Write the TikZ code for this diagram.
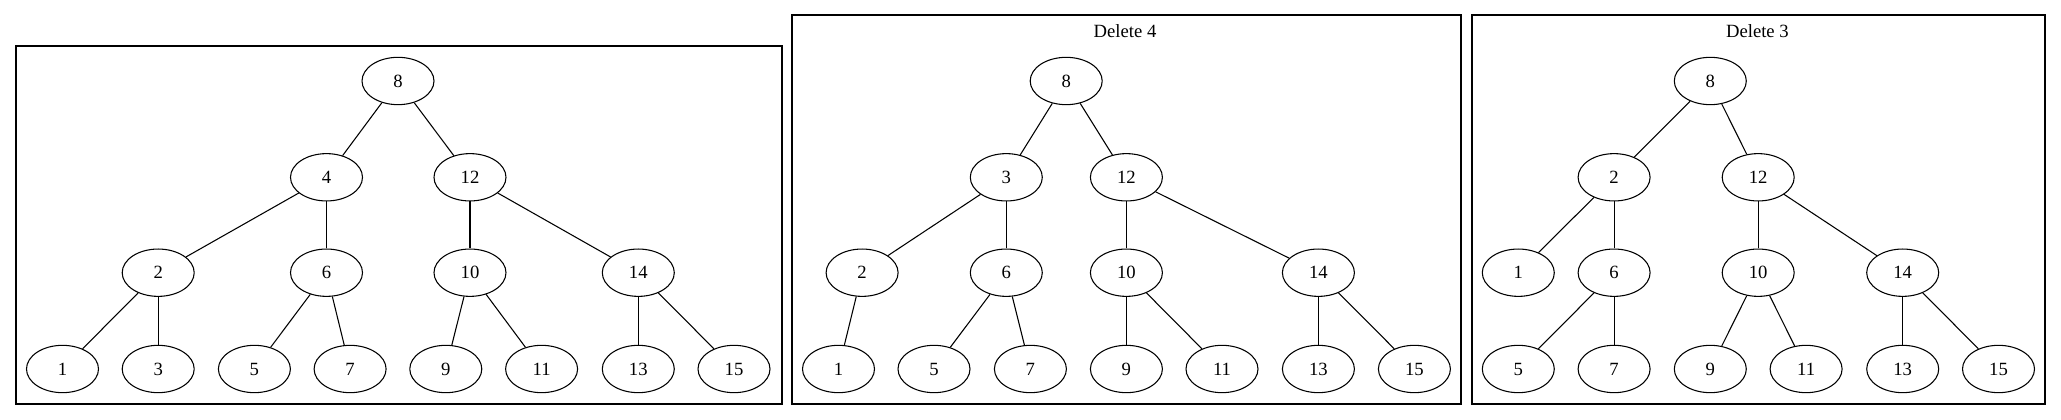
\documentclass[tikz,border=0pt]{standalone}
\usepackage{fontspec}
\setmainfont{Liberation Serif}
\usetikzlibrary{shapes.geometric}
\begin{document}
\begin{tikzpicture}[x=0.75pt,y=-0.75pt,
  tnode/.style={draw,ellipse,line width=0.8pt,minimum width=54pt,minimum height=35.5pt,inner sep=0pt,font=\fontsize{14}{16}\selectfont},
  frame/.style={draw,line width=0.8pt},
  ttl/.style={font=\fontsize{14}{16}\selectfont},
  edge/.style={line width=0.8pt}]
\useasboundingbox (0,0) rectangle (2061,420);
% Panel 1
\draw[frame] (16,46) rectangle (782,404);
\node[tnode] (a8) at (398,81) {8};
\node[tnode] (a4) at (326.5,177.3) {4};
\node[tnode] (a12) at (470,177.3) {12};
\node[tnode] (a2) at (158.2,272.7) {2};
\node[tnode] (a6) at (326.5,272.7) {6};
\node[tnode] (a10) at (470,272.7) {10};
\node[tnode] (a14) at (638.3,272.7) {14};
\node[tnode] (a1) at (62.5,369) {1};
\node[tnode] (a3) at (158.2,369) {3};
\node[tnode] (a5) at (254.4,369) {5};
\node[tnode] (a7) at (350.1,369) {7};
\node[tnode] (a9) at (445.8,369) {9};
\node[tnode] (a11) at (541.6,369) {11};
\node[tnode] (a13) at (638.3,369) {13};
\node[tnode] (a15) at (734,369) {15};
\foreach \p/\c in {a8/a4,a8/a12,a4/a2,a4/a6,a12/a10,a12/a14,a2/a1,a2/a3,a6/a5,a6/a7,a10/a9,a10/a11,a14/a13,a14/a15}
  \draw[edge] (\p) -- (\c);
% Panel 2
\draw[frame] (792,15) rectangle (1461,404);
\node[ttl] (t2) at (1125,30.7) {Delete 4};
\node[tnode] (b8) at (1066.2,81) {8};
\node[tnode] (b3) at (1006.3,177.3) {3};
\node[tnode] (b12) at (1126.4,177.3) {12};
\node[tnode] (b2) at (862.1,272.7) {2};
\node[tnode] (b6) at (1006.3,272.7) {6};
\node[tnode] (b10) at (1126.4,272.7) {10};
\node[tnode] (b14) at (1318.4,272.7) {14};
\node[tnode] (b1) at (838.5,369) {1};
\node[tnode] (b5) at (934,369) {5};
\node[tnode] (b7) at (1030.4,369) {7};
\node[tnode] (b9) at (1126.4,369) {9};
\node[tnode] (b11) at (1222,369) {11};
\node[tnode] (b13) at (1318.4,369) {13};
\node[tnode] (b15) at (1414.4,369) {15};
\foreach \p/\c in {b8/b3,b8/b12,b3/b2,b3/b6,b12/b10,b12/b14,b2/b1,b6/b5,b6/b7,b10/b9,b10/b11,b14/b13,b14/b15}
  \draw[edge] (\p) -- (\c);
% Panel 3
\draw[frame] (1472,15) rectangle (2045,404);
\node[ttl] (t3) at (1757.4,30.7) {Delete 3};
\node[tnode] (c8) at (1710.3,81) {8};
\node[tnode] (c2) at (1614.1,177.3) {2};
\node[tnode] (c12) at (1758.2,177.3) {12};
\node[tnode] (c1) at (1518.3,272.7) {1};
\node[tnode] (c6) at (1614.1,272.7) {6};
\node[tnode] (c10) at (1758.2,272.7) {10};
\node[tnode] (c14) at (1902.7,272.7) {14};
\node[tnode] (c5) at (1518.3,369) {5};
\node[tnode] (c7) at (1614.1,369) {7};
\node[tnode] (c9) at (1710.3,369) {9};
\node[tnode] (c11) at (1806.1,369) {11};
\node[tnode] (c13) at (1902.7,369) {13};
\node[tnode] (c15) at (1998.5,369) {15};
\foreach \p/\c in {c8/c2,c8/c12,c2/c1,c2/c6,c12/c10,c12/c14,c6/c5,c6/c7,c10/c9,c10/c11,c14/c13,c14/c15}
  \draw[edge] (\p) -- (\c);
\end{tikzpicture}
\end{document}
